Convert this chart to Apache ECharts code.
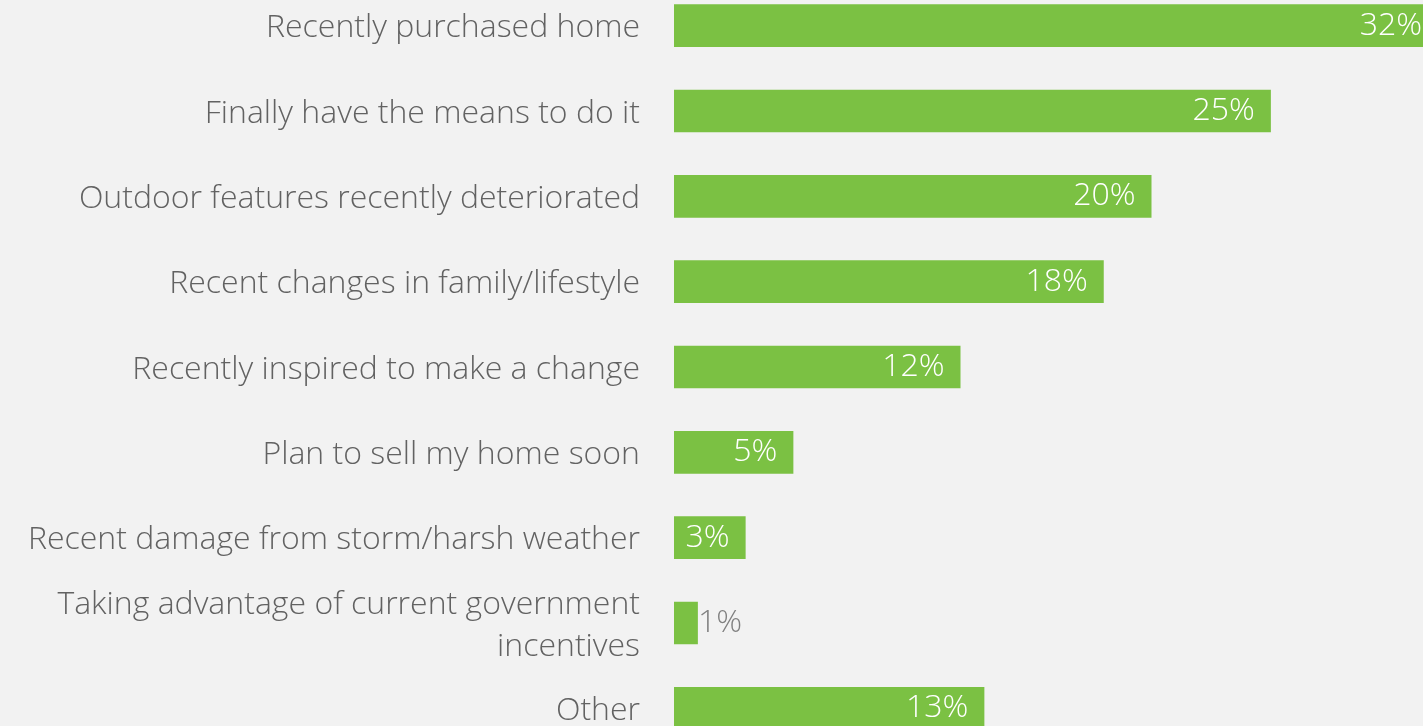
<!DOCTYPE html>
<html>
<head>
<meta charset="utf-8">
<script src="https://cdn.jsdelivr.net/npm/echarts@6/dist/echarts.min.js"></script>
<style>
  html, body { margin: 0; padding: 0; background: #f2f2f2; overflow: hidden; }
  /* chart is a bit larger than the window: top bar and last bar run off the edges */
  #chart { position: absolute; left: 0; top: -17px; width: 1438px; height: 768px; }
</style>
</head>
<body>
<div id="chart"></div>
<script>
// categories, top to bottom
var categories = [
  "Recently purchased home",
  "Finally have the means to do it",
  "Outdoor features recently deteriorated",
  "Recent changes in family/lifestyle",
  "Recently inspired to make a change",
  "Plan to sell my home soon",
  "Recent damage from storm/harsh weather",
  "Taking advantage of current government\nincentives",
  "Other"
];
var values = [32, 25, 20, 18, 12, 5, 3, 1, 13];

var green = "#7bc143";
var textGray = "#626262";
var fontFam = "'Open Sans', Lato, sans-serif";

var chart = echarts.init(document.getElementById("chart"));

var barData = values.map(function (v) {
  var item = { value: v };
  if (v < 2) {
    // too small, label sits outside
    item.label = { position: "right", distance: 0, color: "#808080" };
  }
  return item;
});

// wrap each line in a rich tag so it can be nudged down a little
function tag(s) {
  return s.split("\n").map(function (l) { return "{t|" + l + "}"; }).join("\n");
}

var option = {
  backgroundColor: "#f2f2f2",
  animation: false,
  grid: { left: 674, right: 0, top: 0, bottom: 0 },
  xAxis: {
    type: "value",
    min: 0,
    max: 32,
    show: false
  },
  yAxis: {
    type: "category",
    inverse: true,
    data: categories,
    axisLine: { show: false },
    axisTick: { show: false },
    axisLabel: {
      margin: 34,
      align: "right",
      formatter: function (v) { return tag(v); },
      rich: {
        t: {
          fontSize: 32,
          fontWeight: 300,
          fontFamily: fontFam,
          color: textGray,
          lineHeight: 42,
          padding: [5, 0, 0, 0]
        }
      }
    }
  },
  series: [{
    type: "bar",
    data: barData,
    barCategoryGap: "50%",
    itemStyle: { color: green },
    label: {
      show: true,
      position: "insideRight",
      distance: 16,
      formatter: "{c}%",
      color: "#ffffff",
      fontSize: 32,
      fontWeight: 300,
      fontFamily: fontFam
    }
  }]
};

chart.setOption(option);
</script>
</body>
</html>
